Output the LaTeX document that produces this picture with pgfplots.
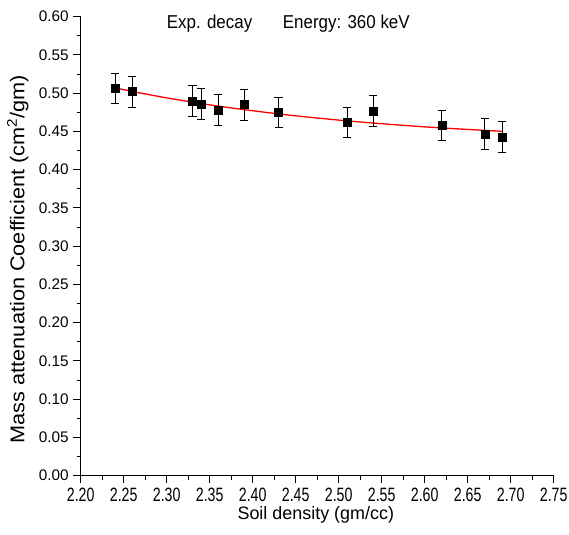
\documentclass[border=0pt]{standalone}
\usepackage{fontspec}
\setmainfont{Liberation Sans}
\usepackage{pgfplots}
\usepackage{pgfplotstable}
\pgfplotsset{compat=1.18}
\pgfplotstableread{
x y err
2.24 0.506 0.020
2.26 0.502 0.020
2.33 0.490 0.020
2.34 0.486 0.020
2.36 0.478 0.020
2.39 0.485 0.020
2.43 0.475 0.020
2.51 0.462 0.020
2.54 0.477 0.020
2.62 0.458 0.020
2.67 0.447 0.020
2.69 0.443 0.020
}\datatable
\pgfplotstableread{
x y
2.24 0.5070
2.27 0.5001
2.30 0.4939
2.33 0.4883
2.36 0.4831
2.39 0.4785
2.42 0.4743
2.45 0.4704
2.48 0.4670
2.51 0.4638
2.54 0.4610
2.57 0.4584
2.60 0.4560
2.63 0.4539
2.66 0.4520
2.69 0.4502
}\fittable
\begin{document}
\begin{tikzpicture}
\begin{axis}[
  scale only axis,
  width=473bp, height=459bp,
  xmin=2.20, xmax=2.75, ymin=0, ymax=0.60,
  axis x line*=bottom, axis y line*=left,
  axis line style={-, line width=1.2bp},
  every tick/.style={black, line width=1.1bp},
  tick align=outside,
  major tick length=7.5bp, minor tick length=4bp,
  xtick={2.20,2.25,...,2.76}, ytick={0,0.05,...,0.61},
  minor x tick num=1, minor y tick num=1,
  /pgf/number format/.cd, fixed, fixed zerofill, precision=2, assume math mode=true,
  /pgfplots/.cd,
  yticklabel style={font=\fontsize{15.4}{18}\selectfont, xshift=-1bp},
  xticklabel={\scalebox{0.92}[1.25]{\pgfmathprintnumber{\tick}}},
  xticklabel style={font=\fontsize{15.5}{18}\selectfont, anchor=base, yshift=-18bp, inner sep=0pt},
  xlabel={Soil density (gm/cc)},
  ylabel={Mass attenuation Coefficient (cm\textsuperscript{2}/gm)},
  xlabel style={font=\fontsize{18}{22}\selectfont, at={(axis description cs:0.497,-0.0945)}, anchor=base, inner sep=0pt},
  ylabel style={font=\fontsize{20}{24}\selectfont, at={(axis description cs:-0.1192,0.472)}, anchor=base, xscale=1.09, inner sep=0pt},
  clip=false,
]
\addplot[red, line width=1.3bp, smooth] table[x=x, y=y] {\fittable};
\addplot[only marks, mark=square*, mark size=4bp, black,
  error bars/.cd, y dir=both, y explicit,
  error bar style={line width=0.9bp, black},
  error mark options={rotate=90, mark size=4bp, line width=0.9bp}]
  table[x=x, y=y, y error=err] {\datatable};
\node[anchor=base west, font=\fontsize{17}{20}\selectfont, yscale=1.1, inner sep=0pt] at (axis cs:2.30,0.5848) {Exp. decay};
\node[anchor=base west, font=\fontsize{17}{20}\selectfont, yscale=1.1, inner sep=0pt] at (axis cs:2.4349,0.5848) {Energy: 360 keV};
\end{axis}
\pgfresetboundingbox
\path[use as bounding box] (-80.7bp,-59.3bp) rectangle (488.3bp,475.7bp);
\end{tikzpicture}
\end{document}
